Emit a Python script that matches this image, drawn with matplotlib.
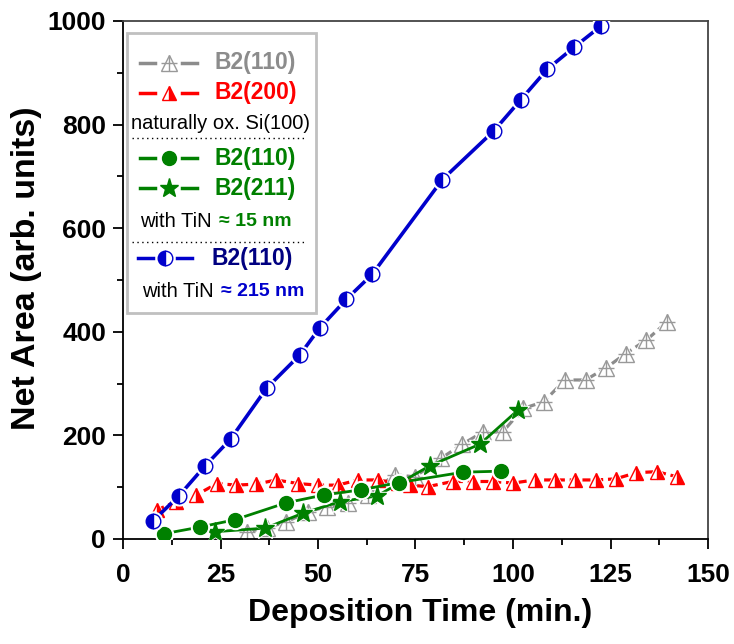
import numpy as np
import matplotlib.pyplot as plt
from matplotlib.lines import Line2D
from matplotlib.patches import Rectangle

plt.rcParams['font.family'] = ['Liberation Sans', 'DejaVu Sans']

## donnees
# Si(100) naturellement oxyde
t_gris = [31.8, 36.9, 41.9, 47.4, 52.2, 57.7, 62.8, 69.7, 74.8, 81.6, 87.0, 92.2, 97.4,
          102.6, 107.9, 113.3, 118.6, 123.8, 128.9, 134.2, 139.5]
a_gris = [14, 22, 33, 53, 62, 69, 85, 124, 120, 156, 183, 206, 207,
          252, 265, 307, 307, 330, 358, 384, 419]

t_rouge = [8.6, 13.7, 18.8, 24.1, 29.1, 34.2, 39.3, 44.9, 49.9, 55.1, 60.2, 65.3, 70.4,
           73.5, 78.1, 84.5, 89.7, 94.8, 100.0, 105.6, 110.7, 115.8, 121.2, 126.3,
           131.6, 136.9, 142.1]
a_rouge = [56, 72, 85, 107, 104, 106, 114, 107, 104, 104, 114, 114, 108,
           104, 101, 111, 111, 111, 108, 114, 114, 114, 114, 116,
           128, 130, 120]

# TiN 15 nm
t_vert_rond = [10.4, 19.7, 28.6, 41.9, 51.5, 61.1, 70.8, 87.2, 97.0]
a_vert_rond = [10, 23, 37, 70, 85, 95, 109, 129, 131]

t_vert_etoile = [23.5, 36.5, 46.2, 55.6, 65.1, 78.6, 91.5, 101.3]
a_vert_etoile = [14, 21, 50, 72, 83, 141, 183, 249]

# TiN 215 nm
t_bleu = [7.7, 14.3, 20.9, 27.6, 36.8, 45.3, 50.4, 57.3, 63.9, 81.9, 95.1, 102.0,
          108.8, 115.6, 122.5]
a_bleu = [35, 83, 140, 193, 291, 355, 407, 463, 511, 694, 788, 848,
          907, 949, 990]

GRIS = '#8c8c8c'
ROUGE = '#ff0000'
VERT = '#008000'
BLEU = '#0000cc'
MARINE = '#000080'

W, H = 734, 644
fig = plt.figure(figsize=(W/100, H/100), dpi=100)
ax = fig.add_axes([123/W, 1-539/H, (708-123)/W, (539-21)/H])

def px(x, y):
    return (x/W, 1-y/H)

def serie(x, y, couleur, ls, lw, z, ms, **kw):
    ax.plot(x, y, color=couleur, ls=ls, lw=lw, zorder=z)
    ax.plot(x, y, ls='none', marker=kw.get('marker', 'o'), ms=ms+3, mfc='white',
            mec='white', zorder=z+0.1)
    ax.plot(x, y, ls='none', ms=ms, zorder=z+0.2, **kw)

# gris : triangle ouvert avec croix
serie(t_gris, a_gris, GRIS, (0, (3, 1.5)), 2.3, 2, 11, marker='^', mfc='none',
      mec='#999999', mew=1.0)
ax.plot(t_gris, a_gris, ls='none', marker='+', ms=12, mec='#999999', mew=1.0, zorder=2.3)

# rouge : triangle demi plein
serie(t_rouge, a_rouge, ROUGE, (0, (2.5, 1.5)), 2.3, 3, 10, marker='^', fillstyle='right',
      mfc=ROUGE, markerfacecoloralt='white', mec=ROUGE, mew=1.0)

# vert
serie(t_vert_etoile, a_vert_etoile, VERT, '-', 2.0, 4, 14, marker='*', mfc=VERT, mec=VERT)
serie(t_vert_rond, a_vert_rond, VERT, '-', 2.0, 5, 10, marker='o', mfc=VERT, mec=VERT)

# bleu : rond demi plein
serie(t_bleu, a_bleu, BLEU, '-', 2.6, 6, 10.5, marker='o', fillstyle='left', mfc=BLEU,
      markerfacecoloralt='white', mec=BLEU, mew=1.0)

ax.set_xlim(0, 150)
ax.set_ylim(0, 1000)
ax.set_xticks(np.arange(0, 151, 25))
ax.set_xticks(np.arange(0, 151, 12.5), minor=True)
ax.set_yticks(np.arange(0, 1001, 200))
ax.set_yticks(np.arange(0, 1001, 100), minor=True)
ax.tick_params(which='major', direction='out', length=7.2, width=1.3, labelsize=19)
ax.tick_params(which='minor', direction='out', length=4.5, width=1.3)
ax.tick_params(axis='x', which='major', pad=10)
ax.tick_params(axis='y', which='major', pad=5)
for lab in ax.get_xticklabels() + ax.get_yticklabels():
    lab.set_fontweight('bold')
for s in ax.spines.values():
    s.set_linewidth(1.3)
ax.spines['top'].set_color('#444444')
ax.spines['right'].set_color('#444444')

# titres des axes places comme sur l'original
fig.text(*px(420, 613), 'Deposition Time (min.)', fontsize=23, fontweight='bold',
         ha='center', va='center')
fig.text(*px(27, 268), 'Net Area (arb. units)', fontsize=24.5, fontweight='bold',
         ha='center', va='center', rotation=90)

## legende faite a la main
fig.add_artist(Rectangle(px(127, 313), 189/W, 280/H, transform=fig.transFigure,
                         facecolor='white', edgecolor='#c0c0c0', lw=2, zorder=5))

def ligne_leg(y, couleur, x1=140, x2=155, x3=182, x4=197, ls='-', **kw):
    for a, b in [(x1, x2), (x3, x4)]:
        fig.add_artist(Line2D([a/W, b/W], [1-y/H, 1-y/H], transform=fig.transFigure,
                              color=couleur, lw=2.5, ls=ls, zorder=6))
    xm = (x2 + x3)/2
    fig.add_artist(Line2D([xm/W], [1-y/H], transform=fig.transFigure, ls='none',
                          zorder=7, **kw))

ligne_leg(62.7, GRIS, marker='^', ms=11, mfc='none', mec='#999999', mew=1.0)
fig.add_artist(Line2D([168.5/W], [1-62.7/H], transform=fig.transFigure, ls='none',
                      marker='+', ms=12, mec='#999999', mew=1.0, zorder=7))
ligne_leg(92.7, ROUGE, marker='^', ms=10, fillstyle='right', mfc=ROUGE,
          markerfacecoloralt='white', mec=ROUGE, mew=1.0)
ligne_leg(158.3, VERT, marker='o', ms=10, mfc=VERT, mec=VERT)
ligne_leg(188.3, VERT, marker='*', ms=14, mfc=VERT, mec=VERT)
ligne_leg(258.3, BLEU, x1=138, x2=153, x3=177, x4=192, marker='o', ms=10.5,
          fillstyle='left', mfc=BLEU, markerfacecoloralt='white', mec=BLEU, mew=1.0)

def texte(x, y, s, **kw):
    fig.text(*px(x, y), s, va='center', ha='left', zorder=8, **kw)

texte(215, 62.7, 'B2(110)', color=GRIS, fontsize=16.5, fontweight='bold')
texte(215, 92.7, 'B2(200)', color=ROUGE, fontsize=16.5, fontweight='bold')
texte(131, 123.3, 'naturally ox. Si(100)', color='black', fontsize=14.5)
texte(215, 158.3, 'B2(110)', color=VERT, fontsize=16.5, fontweight='bold')
texte(215, 188.3, 'B2(211)', color=VERT, fontsize=16.5, fontweight='bold')
texte(140, 221.7, 'with TiN', color='black', fontsize=14.5)
texte(219, 221.7, '≈ 15 nm', color=VERT, fontsize=14, fontweight='bold')
texte(211, 258.3, 'B2(110)', color=MARINE, fontsize=16.5, fontweight='bold')
texte(142, 291.7, 'with TiN', color='black', fontsize=14.5)
texte(221, 291.7, '≈ 215 nm', color=BLEU, fontsize=14, fontweight='bold')

for y in [138.3, 241.7]:
    fig.add_artist(Line2D([132/W, 307/W], [1-y/H, 1-y/H], transform=fig.transFigure,
                          color='black', lw=1, ls=(0, (1, 2.5)), zorder=6))

fig.savefig('out.png', dpi=100)
